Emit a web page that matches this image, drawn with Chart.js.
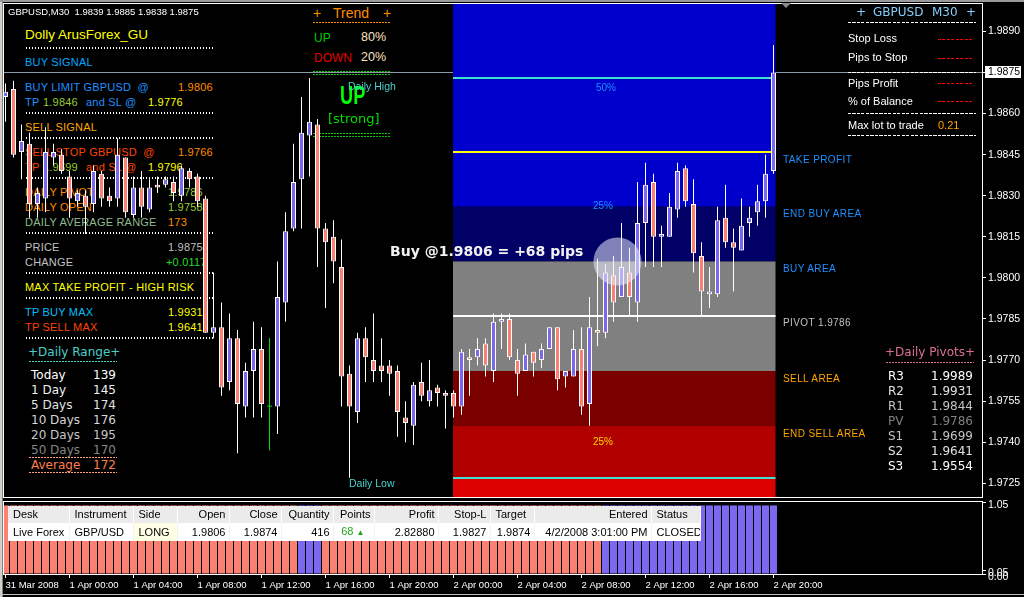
<!DOCTYPE html>
<html>
<head>
<meta charset="utf-8">
<title>GBPUSD,M30</title>
<script src="https://cdn.jsdelivr.net/npm/chart.js@4.4.1/dist/chart.umd.min.js"></script>
<style>
  html, body { margin: 0; padding: 0; background: #000; }
  body { position: relative; width: 1024px; height: 597px; overflow: hidden; font-family: "Liberation Sans", Arial, sans-serif; }
  #main { position: absolute; left: 0; top: 0; z-index: 1; }
  #ind { position: absolute; left: 0; top: 499px; z-index: 1; }
  .t { position: absolute; white-space: pre; line-height: 1; }
  #deals { position: absolute; left: 8px; top: 506px; z-index: 2; border-collapse: collapse; table-layout: fixed; width: 692px;
           font: 11px "Liberation Sans", Arial, sans-serif; color: #000; }
  #deals td { height: 17px; line-height: 17px; padding: 0 3px 0 5px; white-space: nowrap; overflow: hidden; }
  #deals tr.h td { background: #ebebeb; border-right: 1px solid #fff; }
  #deals tr.d td { background: #fff; border-right: 1px solid #f2f2f2; }
  #deals .r { text-align: right; }
</style>
</head>
<body>
<canvas id="main" width="1024" height="499"></canvas>
<canvas id="ind" width="1024" height="98"></canvas>
<table id="deals">
  <colgroup>
    <col style="width:61px"><col style="width:64px"><col style="width:44px"><col style="width:52px"><col style="width:52px"><col style="width:52px">
    <col style="width:41px"><col style="width:64px"><col style="width:52px"><col style="width:44px"><col style="width:117px"><col style="width:49px">
  </colgroup>
  <tr class="h"><td>Desk</td><td>Instrument</td><td>Side</td><td class="r">Open</td><td class="r">Close</td><td class="r">Quantity</td>
    <td class="r">Points</td><td class="r">Profit</td><td class="r">Stop-L</td><td>Target</td><td class="r">Entered</td><td>Status</td></tr>
  <tr class="d"><td>Live Forex</td><td>GBP/USD</td><td style="background:#ffffe6">LONG</td><td class="r">1.9806</td><td class="r">1.9874</td>
    <td class="r">416</td><td class="r" style="color:#1fa51f">68 <span style="font-size:8px">&#9650;</span>&nbsp;&nbsp;</td><td class="r">2.82880</td>
    <td class="r">1.9827</td><td class="r">1.9874</td><td class="r">4/2/2008 3:01:00 PM</td><td>CLOSED</td></tr>
</table>
<script>
// GBPUSD M30 bars, 31 Mar 20:00 .. 2 Apr 20:00
const open = [
  1.9866, 1.9869, 1.9846, 1.9849, 1.9827, 1.9829, 1.9844, 1.9845, 1.9837, 1.9828,
  1.9830, 1.9827, 1.9838, 1.9830, 1.9829, 1.9844, 1.9823, 1.9833, 1.9825, 1.9834,
  1.9834, 1.9835, 1.9830, 1.9839, 1.9837, 1.9829, 1.9780, 1.9782, 1.9762, 1.9778,
  1.9753, 1.9766, 1.9774, 1.9753, 1.9753, 1.9791, 1.9818, 1.9836, 1.9852, 1.9856,
  1.9818, 1.9815, 1.9804, 1.9765, 1.9751, 1.9778, 1.9770, 1.9768, 1.9768, 1.9766,
  1.9749, 1.9746, 1.9762, 1.9755, 1.9760, 1.9758, 1.9758, 1.9753, 1.9771, 1.9771,
  1.9776, 1.9766, 1.9784, 1.9785, 1.9770, 1.9766, 1.9773, 1.9770, 1.9774, 1.9782,
  1.9764, 1.9764, 1.9774, 1.9754, 1.9781, 1.9780, 1.9801, 1.9793, 1.9802, 1.9791,
  1.9820, 1.9835, 1.9815, 1.9815, 1.9825, 1.9840, 1.9827, 1.9808, 1.9794, 1.9794,
  1.9822, 1.9813, 1.9810, 1.9820, 1.9824, 1.9828, 1.9839
];
const high = [
  1.9871, 1.9872, 1.9856, 1.9853, 1.9833, 1.9855, 1.9849, 1.9847, 1.9839, 1.9832,
  1.9832, 1.9841, 1.9839, 1.9833, 1.9851, 1.9844, 1.9837, 1.9839, 1.9836, 1.9837,
  1.9837, 1.9837, 1.9841, 1.9840, 1.9838, 1.9830, 1.9802, 1.9791, 1.9787, 1.9781,
  1.9769, 1.9784, 1.9782, 1.9778, 1.9806, 1.9824, 1.9849, 1.9866, 1.9873, 1.9858,
  1.9820, 1.9821, 1.9814, 1.9768, 1.9780, 1.9782, 1.9787, 1.9778, 1.9770, 1.9768,
  1.9755, 1.9762, 1.9769, 1.9770, 1.9761, 1.9759, 1.9759, 1.9774, 1.9774, 1.9778,
  1.9778, 1.9787, 1.9787, 1.9787, 1.9774, 1.9776, 1.9773, 1.9776, 1.9782, 1.9782,
  1.9766, 1.9781, 1.9782, 1.9793, 1.9807, 1.9805, 1.9808, 1.9820, 1.9811, 1.9835,
  1.9842, 1.9838, 1.9819, 1.9831, 1.9842, 1.9841, 1.9836, 1.9813, 1.9804, 1.9826,
  1.9834, 1.9818, 1.9829, 1.9826, 1.9834, 1.9845, 1.9885
];
const low = [
  1.9857, 1.9844, 1.9836, 1.9822, 1.9822, 1.9824, 1.9841, 1.9838, 1.9822, 1.9826,
  1.9816, 1.9824, 1.9826, 1.9826, 1.9826, 1.9822, 1.9822, 1.9822, 1.9824, 1.9831,
  1.9833, 1.9828, 1.9828, 1.9833, 1.9826, 1.9780, 1.9778, 1.9757, 1.9759, 1.9736,
  1.9749, 1.9749, 1.9749, 1.9737, 1.9743, 1.9784, 1.9817, 1.9818, 1.9837, 1.9804,
  1.9789, 1.9798, 1.9753, 1.9727, 1.9747, 1.9762, 1.9762, 1.9762, 1.9757, 1.9742,
  1.9740, 1.9739, 1.9755, 1.9753, 1.9753, 1.9745, 1.9749, 1.9750, 1.9757, 1.9768,
  1.9764, 1.9762, 1.9774, 1.9770, 1.9757, 1.9766, 1.9764, 1.9767, 1.9774, 1.9759,
  1.9760, 1.9764, 1.9750, 1.9746, 1.9775, 1.9778, 1.9784, 1.9793, 1.9786, 1.9784,
  1.9804, 1.9804, 1.9804, 1.9815, 1.9822, 1.9826, 1.9802, 1.9786, 1.9789, 1.9793,
  1.9811, 1.9795, 1.9810, 1.9815, 1.9819, 1.9822, 1.9838
];
const close = [
  1.9868, 1.9845, 1.9850, 1.9827, 1.9831, 1.9846, 1.9846, 1.9839, 1.9829, 1.9831,
  1.9826, 1.9839, 1.9829, 1.9828, 1.9845, 1.9824, 1.9833, 1.9826, 1.9833, 1.9833,
  1.9836, 1.9831, 1.9840, 1.9836, 1.9828, 1.9780, 1.9782, 1.9760, 1.9778, 1.9754,
  1.9766, 1.9774, 1.9754, 1.9753, 1.9793, 1.9817, 1.9835, 1.9853, 1.9857, 1.9818,
  1.9813, 1.9806, 1.9764, 1.9753, 1.9778, 1.9771, 1.9766, 1.9766, 1.9765, 1.9751,
  1.9747, 1.9761, 1.9757, 1.9759, 1.9758, 1.9757, 1.9753, 1.9773, 1.9770, 1.9774,
  1.9768, 1.9784, 1.9785, 1.9771, 1.9765, 1.9772, 1.9769, 1.9774, 1.9782, 1.9763,
  1.9766, 1.9774, 1.9753, 1.9782, 1.9780, 1.9802, 1.9791, 1.9804, 1.9793, 1.9820,
  1.9834, 1.9815, 1.9816, 1.9826, 1.9839, 1.9828, 1.9809, 1.9795, 1.9795, 1.9821,
  1.9813, 1.9811, 1.9819, 1.9822, 1.9828, 1.9838, 1.9875
];

const timeLabels = ['31 Mar 2008', '1 Apr 00:00', '1 Apr 04:00', '1 Apr 08:00', '1 Apr 12:00', '1 Apr 16:00', '1 Apr 20:00',
                    '2 Apr 00:00', '2 Apr 04:00', '2 Apr 08:00', '2 Apr 12:00', '2 Apr 16:00', '2 Apr 20:00'];
const barsPerLabel = 8;
const priceTicks = [1.9725, 1.9740, 1.9755, 1.9770, 1.9785, 1.9800, 1.9815, 1.9830, 1.9845, 1.9860, 1.9875, 1.9890];
const bid = 1.9875;

// buy / sell zones (price edges, top to bottom) and marked levels
const zoneEdges = [1.9900, 1.9826, 1.9806, 1.9766, 1.9746, 1.9727, 1.9720];
const zoneColors = ['#0000cd', '#000066', '#808080', '#7a0000', '#b00000', '#dc0000'];
const levelPrices = [1.9873, 1.9846, 1.9786, 1.9727];
const levelColors = ['#40e0d0', '#ffff00', '#ffffff', '#40e0d0'];
const entryBar = 76.5, entryPrice = 1.9806;

// lower window histogram, as runs of bars
const histRunLength = [37, 3, 35, 22];
const histRunSide = ['down', 'up', 'down', 'up'];
const histLevel = 1;
const indTicks = [0, 0.05, 1.05];

// panels
const rangeNames = ['Today', '1 Day', '5 Days', '10 Days', '20 Days', '50 Days'];
const rangeValues = [139, 145, 174, 176, 195, 170];
const rangeAverage = 172;
const pivotNames = ['R3', 'R2', 'R1', 'PV', 'S1', 'S2', 'S3'];
const pivotValues = ['1.9989', '1.9931', '1.9844', '1.9786', '1.9699', '1.9641', '1.9554'];

const UP = '#7b68ee', DOWN = '#fa8072', DOJI = '#00e000';
const FONT = '"Liberation Sans", Arial, sans-serif';
const DJ = '"DejaVu Sans", sans-serif';
const xMin = -0.1875, xMax = 122.0625;

function put(s, x, y, color, size, o) {
  o = o || {};
  const d = document.createElement('div');
  d.className = 't';
  d.textContent = s;
  if (o.right) d.style.right = (1024 - x) + 'px'; else d.style.left = x + 'px';
  d.style.top = (y - size / 2) + 'px';
  d.style.color = color;
  d.style.fontSize = size + 'px';
  d.style.fontFamily = o.font || FONT;
  d.style.zIndex = o.z == null ? 2 : o.z;
  if (o.bold) d.style.fontWeight = 'bold';
  if (o.ls) d.style.letterSpacing = o.ls + 'px';
  if (o.sx) { d.style.transform = 'scaleX(' + o.sx + ')'; d.style.transformOrigin = 'left center'; }
  document.body.appendChild(d);
}
function rule(x1, x2, y, color, on, off, h, z) {
  const d = document.createElement('div');
  d.style.cssText = 'position:absolute;left:' + x1 + 'px;top:' + y + 'px;width:' + (x2 - x1) + 'px;height:' + (h || 1) + 'px;z-index:' + (z == null ? 2 : z) +
    ';background:repeating-linear-gradient(90deg,' + color + ' 0 ' + on + 'px,transparent ' + on + 'px ' + (on + off) + 'px)';
  document.body.appendChild(d);
}
function box(css) {
  const d = document.createElement('div');
  d.style.cssText = 'position:absolute;' + css;
  document.body.appendChild(d);
}

// window borders
box('left:0;top:0;width:3px;height:597px;z-index:3;background:linear-gradient(90deg,#d4d0c8 0 2px,#808080 2px 3px)');
box('left:0;top:0;width:1024px;height:2px;z-index:3;background:#9a9a9a');
box('left:0;top:594px;width:1024px;height:1px;z-index:3;background:#c0c0c0');
box('left:781px;top:3px;width:0;height:0;z-index:3;border-left:5px solid transparent;border-right:5px solid transparent;border-top:5px solid #8a8a8a');

// header
put('GBPUSD,M30  1.9839 1.9885 1.9838 1.9875', 8, 11.5, '#ffffff', 9.5);

// left signal panel (behind the candles)
const P = { z: 0, ls: 0.2 };
const dots = y => rule(26, 213, y - 1, '#ffffff', 1, 2, 2, 0);
put('Dolly ArusForex_GU', 25, 34.5, '#ffff00', 13.5, { z: 0 });
dots(48);
put('BUY SIGNAL', 25, 62, '#00a8ff', 11, P);
put('BUY LIMIT GBPUSD  @', 25, 87, '#1e90ff', 11, P);
put('1.9806', 178, 87, '#ff8c00', 11, P);
put('TP', 25, 102, '#1e90ff', 11, P); put('1.9846', 43, 102, '#9acd32', 11, P);
put('and SL @', 86, 102, '#1e90ff', 11, P); put('1.9776', 148, 102, '#ffff00', 11, P);
dots(113);
put('SELL SIGNAL', 25, 127, '#ffa500', 11, P);
dots(138);
put('SELL STOP GBPUSD  @', 25, 152, '#ff4500', 11, P);
put('1.9766', 178, 152, '#ff8c00', 11, P);
put('TP', 25, 167, '#ff4500', 11, P); put('1.9699', 43, 167, '#9acd32', 11, P);
put('and SL @', 86, 167, '#ff4500', 11, P); put('1.9796', 148, 167, '#ffff00', 11, P);
dots(178);
put('DAILY PIVOT', 25, 192, '#ff8c00', 11, P); put('1.9786', 168, 192, '#9acd32', 11, P);
put('DAILY OPEN', 25, 207, '#ff8c00', 11, P); put('1.9758', 168, 207, '#9acd32', 11, P);
put('DAILY AVERAGE RANGE', 25, 222, '#8fbc8f', 11, P); put('173', 168, 222, '#ff8c00', 11, P);
dots(233);
put('PRICE', 25, 247, '#c0c0c0', 11, P); put('1.9875', 168, 247, '#c0c0c0', 11, P);
put('CHANGE', 25, 262, '#c0c0c0', 11, P); put('+0.0117', 166, 262, '#22dd22', 11, P);
dots(273);
put('MAX TAKE PROFIT - HIGH RISK', 25, 287, '#ffff00', 11, P);
dots(298);
put('TP BUY MAX', 25, 312, '#00bfff', 11, P); put('1.9931', 168, 312, '#ffff00', 11, P);
put('TP SELL MAX', 25, 327, '#ff4500', 11, P); put('1.9641', 168, 327, '#ffff00', 11, P);
dots(338);

// daily range panel
put('+Daily Range+', 28, 352, '#48d1cc', 12, { font: DJ, z: 0 });
rule(29, 117, 361, '#48d1cc', 2, 1, 1, 0);
const rangeColors = ['#ffffff', '#f0f0f0', '#e4e4e4', '#d6d6d6', '#c6c6c6', '#868686'];
rangeNames.forEach((n, i) => {
  put(n, 31, 374.5 + 15 * i, rangeColors[i], 12, { font: DJ, z: 0 });
  put(String(rangeValues[i]), 116, 374.5 + 15 * i, rangeColors[i], 12, { font: DJ, z: 0, right: true });
});
rule(29, 117, 457, '#ffa07a', 2, 1, 1, 0);
put('Average', 31, 465, '#ff7f50', 12, { font: DJ, z: 0 });
put(String(rangeAverage), 116, 465, '#ff7f50', 12, { font: DJ, z: 0, right: true });
rule(29, 117, 472, '#ffa07a', 2, 1, 1, 0);

// trend panel
put('+', 313, 12.5, '#ff8c00', 14, { z: 0 }); put('Trend', 333, 12.5, '#ff8c00', 14, { z: 0 }); put('+', 383, 12.5, '#ff8c00', 14, { z: 0 });
rule(313, 391, 22, '#ff8c00', 2, 1, 1, 0);
put('UP', 314, 37.5, '#00c800', 12, { z: 0 }); put('80%', 361, 37.5, '#ffe4c4', 12.5, { z: 0 });
put('DOWN', 314, 57.5, '#e00000', 12, { z: 0 }); put('20%', 361, 57.5, '#ffe4c4', 12.5, { z: 0 });
rule(313, 391, 71, '#00c800', 2, 1, 1, 0); rule(313, 391, 74, '#00c800', 2, 1, 1, 0);
put('UP', 340, 95, '#00ff00', 26, { bold: true, sx: 0.7 });
put('[strong]', 328, 118.5, '#00dd00', 13, { font: DJ });
rule(313, 391, 133, '#00c800', 2, 1, 1, 0); rule(313, 391, 136, '#00c800', 2, 1, 1, 0);
put('Daily High', 348, 86, '#48d1cc', 10.5);
put('Daily Low', 349, 483, '#48d1cc', 10.5);

// zone texts
const Z = { ls: 0.4 };
put('TAKE PROFIT', 783, 159.5, '#1e90ff', 10, Z);
put('END BUY AREA', 783, 214, '#1e90ff', 10, Z);
put('BUY AREA', 783, 268.5, '#1e90ff', 10, Z);
put('PIVOT 1.9786', 783, 323, '#c0c0c0', 10, Z);
put('SELL AREA', 783, 378.5, '#ffa500', 10, Z);
put('END SELL AREA', 783, 433.5, '#ffa500', 10, Z);
put('50%', 596, 88, '#1e90ff', 10);
put('25%', 593, 205.5, '#1e90ff', 10);
put('25%', 593, 442, '#ffd700', 10);
put('Buy @1.9806 = +68 pips', 390, 251, '#f2f2f2', 14, { font: DJ, bold: true });

// account panel
put('+', 856, 12, '#87cefa', 12, { font: DJ }); put('GBPUSD', 873, 12, '#87cefa', 12, { font: DJ });
put('M30', 932, 12, '#87cefa', 12, { font: DJ }); put('+', 966, 12, '#87cefa', 12, { font: DJ });
rule(848, 976, 22, '#ffffff', 3, 1.5);
[['Stop Loss', 38.5], ['Pips to Stop', 57.5], ['Pips Profit', 83], ['% of Balance', 101]].forEach(r => {
  put(r[0], 848, r[1], '#ffffff', 11);
  rule(938, 972, Math.round(r[1]), '#ff0000', 3, 1.5);
});
rule(848, 976, 72, '#ffffff', 3, 1.5);
rule(848, 976, 113, '#ffffff', 3, 1.5);
put('Max lot to trade', 848, 125, '#ffffff', 11); put('0.21', 938, 125, '#ffa500', 11);
rule(848, 976, 135, '#ffffff', 3, 1.5);

// pivots panel
put('+Daily Pivots+', 885, 352, '#db7093', 12, { font: DJ });
rule(886, 974, 362, '#db7093', 2, 1);
const pivotColors = ['#ffffff', '#e2e2e2', '#c4c4c4', '#808080', '#c4c4c4', '#e2e2e2', '#ffffff'];
pivotNames.forEach((n, i) => {
  put(n, 888, 376.3 + 15 * i, pivotColors[i], 12, { font: DJ });
  put(pivotValues[i], 973, 376.3 + 15 * i, pivotColors[i], 12, { font: DJ, right: true });
});

// ---- main price chart ----
const idx = open.map((v, i) => i);
const isDoji = i => open[i] === close[i];
const candleColor = i => close[i] > open[i] ? UP : (close[i] < open[i] ? DOWN : DOJI);

const mainDecor = {
  id: 'mainDecor',
  beforeDatasetsDraw(chart) {
    const { ctx, chartArea: a, scales: { x, y } } = chart;
    ctx.save();
    ctx.beginPath();
    ctx.rect(a.left, a.top, a.right - a.left, a.bottom - a.top);
    ctx.clip();
    ctx.fillStyle = '#8a9aa8';
    ctx.fillRect(a.left, Math.round(y.getPixelForValue(bid)), a.right - a.left, 1);
    const x0 = x.getPixelForValue(56) - 0.5, x1 = x.getPixelForValue(96.25);
    zoneColors.forEach((c, i) => {
      const yt = y.getPixelForValue(zoneEdges[i]), yb = y.getPixelForValue(zoneEdges[i + 1]);
      ctx.fillStyle = c;
      ctx.fillRect(x0, yt, x1 - x0, yb - yt);
    });
    levelPrices.forEach((p, i) => {
      ctx.fillStyle = levelColors[i];
      ctx.fillRect(x0, Math.round(y.getPixelForValue(p)) - 1, x1 - x0, 2);
    });
    ctx.restore();
  },
  afterDatasetsDraw(chart) {
    const { ctx, scales: { x, y } } = chart;
    ctx.save();
    ctx.fillStyle = 'rgba(235,235,255,0.55)';
    ctx.beginPath();
    ctx.arc(x.getPixelForValue(entryBar), y.getPixelForValue(entryPrice), 24, 0, Math.PI * 2);
    ctx.fill();
    ctx.restore();
  },
  afterDraw(chart) {
    const { ctx, chartArea: a, scales: { y } } = chart;
    ctx.save();
    ctx.strokeStyle = '#ffffff';
    ctx.lineWidth = 1;
    ctx.strokeRect(a.left - 0.5, a.top - 0.5, a.right - a.left + 1, a.bottom - a.top + 1);
    const yb = Math.round(y.getPixelForValue(bid));
    ctx.fillStyle = '#ffffff';
    ctx.fillRect(a.right + 3, yb - 6, 36, 12);
    ctx.fillStyle = '#000000';
    ctx.font = '10.5px ' + FONT;
    ctx.textBaseline = 'middle';
    ctx.fillText(bid.toFixed(4), a.right + 6, yb + 0.5);
    ctx.restore();
  }
};

new Chart(document.getElementById('main'), {
  type: 'bar',
  data: {
    datasets: [
      {
        label: 'body',
        data: idx.map(i => ({ x: i, y: [open[i], close[i]] })),
        backgroundColor: c => c.dataIndex == null ? UP : candleColor(c.dataIndex),
        borderColor: c => c.dataIndex != null && isDoji(c.dataIndex) ? DOJI : '#ffffff',
        borderWidth: c => c.dataIndex != null && isDoji(c.dataIndex) ? 0 : 1,
        borderSkipped: false,
        barThickness: 5,
        minBarLength: 1,
        grouped: false,
        inflateAmount: 0
      },
      {
        label: 'wick',
        data: idx.map(i => ({ x: i, y: [low[i], high[i]] })),
        backgroundColor: c => c.dataIndex != null && isDoji(c.dataIndex) ? DOJI : '#ffffff',
        borderWidth: 0,
        barThickness: 1,
        grouped: false,
        inflateAmount: 0
      }
    ]
  },
  options: {
    responsive: false,
    animation: false,
    events: [],
    layout: { padding: { left: 4, top: 4, right: 0, bottom: 2 } },
    plugins: { legend: { display: false }, tooltip: { enabled: false } },
    scales: {
      x: { type: 'linear', min: xMin, max: xMax, offset: false, display: false, grid: { offset: false } },
      y: {
        type: 'linear', position: 'right', min: 1.9720, max: 1.9900,
        afterBuildTicks: s => { s.ticks = priceTicks.map(v => ({ value: v })); },
        afterFit: s => { s.width = 42; s.paddingTop = 0; s.paddingBottom = 0; },
        ticks: { color: '#ffffff', font: { family: FONT, size: 10.5 }, padding: 2, autoSkip: false, callback: v => Number(v).toFixed(4) },
        grid: { drawOnChartArea: false, drawTicks: true, tickLength: 4, color: '#ffffff' },
        border: { display: true, color: '#ffffff' }
      }
    }
  },
  plugins: [mainDecor]
});

// ---- lower indicator window ----
const histSide = [];
histRunLength.forEach((n, r) => { for (let k = 0; k < n; k++) histSide.push(histRunSide[r]); });

const indFrame = {
  id: 'indFrame',
  afterDraw(chart) {
    const { ctx, chartArea: a } = chart;
    ctx.save();
    ctx.strokeStyle = '#ffffff';
    ctx.lineWidth = 1;
    ctx.strokeRect(a.left - 0.5, a.top - 0.5, a.right - a.left + 1, a.bottom - a.top + 1);
    ctx.restore();
  }
};

new Chart(document.getElementById('ind'), {
  type: 'bar',
  data: {
    datasets: [{
      label: 'trend',
      data: histSide.map((s, i) => ({ x: i, y: histLevel })),
      backgroundColor: histSide.map(s => s === 'up' ? UP : DOWN),
      borderWidth: 0,
      barThickness: 7,
      inflateAmount: 0
    }]
  },
  options: {
    responsive: false,
    animation: false,
    events: [],
    layout: { padding: { left: 4, top: 3, right: 0, bottom: 0 } },
    plugins: { legend: { display: false }, tooltip: { enabled: false } },
    scales: {
      x: {
        type: 'linear', min: xMin, max: xMax, position: 'bottom', offset: false,
        afterBuildTicks: s => { s.ticks = timeLabels.map((t, i) => ({ value: i * barsPerLabel })); },
        afterFit: s => { s.height = 23; s.paddingLeft = 0; s.paddingRight = 0; },
        ticks: { color: '#ffffff', font: { family: FONT, size: 9.5 }, align: 'start', padding: 2, autoSkip: false, maxRotation: 0,
                 callback: (v, i) => timeLabels[i] },
        grid: { offset: false, drawOnChartArea: false, drawTicks: true, tickLength: 4, color: '#ffffff' },
        border: { display: true, color: '#ffffff' }
      },
      y: {
        type: 'linear', position: 'right', min: 0, max: 1.05,
        afterBuildTicks: s => { s.ticks = indTicks.map(v => ({ value: v })); },
        afterFit: s => { s.width = 42; s.paddingTop = 0; s.paddingBottom = 0; },
        ticks: { color: '#ffffff', font: { family: FONT, size: 10.5 }, padding: 2, labelOffset: 3, autoSkip: false, callback: v => Number(v).toFixed(2) },
        grid: { drawOnChartArea: false, drawTicks: true, tickLength: 4, color: '#ffffff' },
        border: { display: true, color: '#ffffff' }
      }
    }
  },
  plugins: [indFrame]
});
</script>
</body>
</html>
